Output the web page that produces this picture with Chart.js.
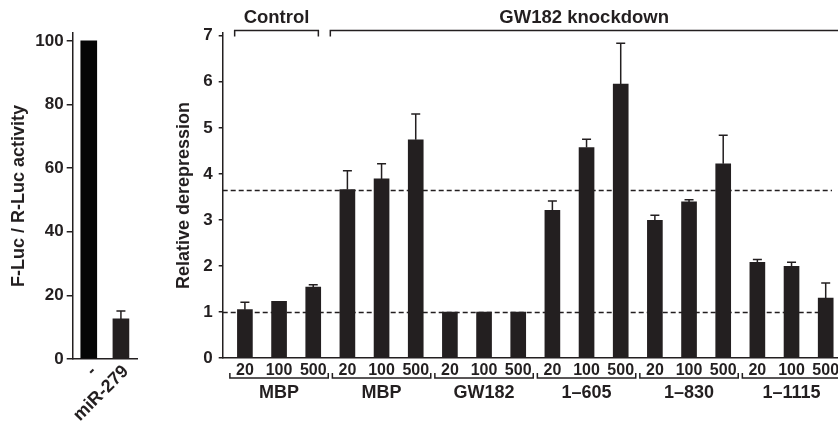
<!DOCTYPE html>
<html>
<head>
<meta charset="utf-8">
<script src="https://cdn.jsdelivr.net/npm/chart.js@4.4.0/dist/chart.umd.min.js"></script>
<style>
html, body { margin: 0; padding: 0; background: #fff; width: 838px; height: 428px; overflow: hidden; }
#left { position: absolute; left: 0; top: 0; }
#right { position: absolute; left: 150px; top: 0; }
</style>
</head>
<body>
<canvas id="left" width="150" height="428"></canvas>
<canvas id="right" width="700" height="428"></canvas>
<script>
// left panel
var leftLabels = ['-', 'miR-279'];
var leftValues = [100, 12.6];
var leftErrors = [null, 15.1];
var leftTicks = [0, 20, 40, 60, 80, 100];

// right panel
var doses = ['20', '100', '500'];
var groupLabels = ['MBP', 'MBP', 'GW182', '1\u2013605', '1\u2013830', '1\u20131115'];
var topGroups = ['Control', 'GW182 knockdown'];
var values = [1.05, 1.23, 1.54, 3.66, 3.89, 4.74, 1.0, 1.0, 1.0, 3.21, 4.57, 5.95, 2.99, 3.39, 4.22, 2.08, 1.99, 1.30];
var errorTops = [1.21, null, 1.59, 4.07, 4.22, 5.30, null, null, null, 3.41, 4.75, 6.84, 3.10, 3.44, 4.84, 2.14, 2.08, 1.63];
var refLines = [1, 3.65];
var rightTicks = [0, 1, 2, 3, 4, 5, 6, 7];

var ink = '#231f20';
var fontFamily = '"Liberation Sans", Arial, sans-serif';

var doseLabels = [];
groupLabels.forEach(function () {
    doses.forEach(function (d) { doseLabels.push(d); });
});

var errorBarsPlugin = {
    id: 'errorBars',
    afterDatasetsDraw: function (chart, args, opts) {
        var ctx = chart.ctx;
        var meta = chart.getDatasetMeta(0);
        var yScale = chart.scales.y;
        ctx.save();
        ctx.strokeStyle = ink;
        ctx.lineWidth = 1.5;
        meta.data.forEach(function (bar, i) {
            var top = opts.tops[i];
            if (top == null) return;
            var yTop = yScale.getPixelForValue(top);
            ctx.beginPath();
            ctx.moveTo(bar.x, bar.y);
            ctx.lineTo(bar.x, yTop);
            ctx.moveTo(bar.x - 4.5, yTop);
            ctx.lineTo(bar.x + 4.5, yTop);
            ctx.stroke();
        });
        ctx.restore();
    }
};

var annotationsPlugin = {
    id: 'annotations',
    beforeDatasetsDraw: function (chart) {
        var ctx = chart.ctx;
        var area = chart.chartArea;
        var yScale = chart.scales.y;
        ctx.save();
        ctx.strokeStyle = ink;
        ctx.lineWidth = 1.4;
        ctx.setLineDash([5, 3]);
        refLines.forEach(function (v) {
            var y = Math.round(yScale.getPixelForValue(v)) + 0.5;
            ctx.beginPath();
            ctx.moveTo(area.left, y);
            ctx.lineTo(area.right - 6, y);
            ctx.stroke();
        });
        ctx.restore();
    },
    afterDraw: function (chart) {
        var ctx = chart.ctx;
        var area = chart.chartArea;
        var xs = chart.scales.x;
        ctx.save();
        ctx.strokeStyle = ink;
        ctx.fillStyle = ink;
        ctx.lineWidth = 1.5;
        ctx.textAlign = 'center';
        ctx.textBaseline = 'middle';
        ctx.font = 'bold 18px ' + fontFamily;

        // brackets under each group
        groupLabels.forEach(function (label, g) {
            var c = g * 3 + 1;
            var x1 = xs.getPixelForValue(c - 1.44);
            var x2 = xs.getPixelForValue(c + 1.44);
            ctx.beginPath();
            ctx.moveTo(x1, 373);
            ctx.lineTo(x1, 378);
            ctx.lineTo(x2, 378);
            ctx.lineTo(x2, 373);
            ctx.stroke();
            ctx.fillText(label, xs.getPixelForValue(c), 393);
        });

        // top brackets
        ctx.font = 'bold 18.5px ' + fontFamily;
        var c1 = xs.getPixelForValue(-0.3);
        var c2 = xs.getPixelForValue(2.15);
        ctx.beginPath();
        ctx.moveTo(c1, 36.5);
        ctx.lineTo(c1, 30.5);
        ctx.lineTo(c2, 30.5);
        ctx.lineTo(c2, 36.5);
        ctx.stroke();
        ctx.fillText(topGroups[0], (c1 + c2) / 2, 17.5);

        var k1 = xs.getPixelForValue(2.5);
        ctx.beginPath();
        ctx.moveTo(k1, 36.5);
        ctx.lineTo(k1, 30.5);
        ctx.lineTo(chart.width, 30.5);
        ctx.stroke();
        ctx.fillText(topGroups[1], (k1 + area.right) / 2, 17.5);
        ctx.restore();
    }
};

new Chart(document.getElementById('left').getContext('2d'), {
    type: 'bar',
    data: {
        labels: leftLabels,
        datasets: [{
            data: leftValues,
            backgroundColor: ['#050505', ink],
            barThickness: 16
        }]
    },
    options: {
        responsive: false,
        animation: false,
        events: [],
        layout: { padding: { top: 33, right: 13, left: 0, bottom: 0 } },
        plugins: {
            legend: { display: false },
            tooltip: { enabled: false },
            errorBars: { tops: leftErrors }
        },
        scales: {
            x: {
                grid: { display: false, drawTicks: false },
                border: { display: true, color: ink, width: 1.5 },
                ticks: {
                    color: ink,
                    font: { family: fontFamily, size: 18, weight: 'bold' },
                    minRotation: 45,
                    maxRotation: 45,
                    padding: 2,
                    labelOffset: 5,
                    autoSkip: false
                },
                afterFit: function (scale) { scale.height = 69; }
            },
            y: {
                min: 0,
                max: 102.5,
                afterBuildTicks: function (scale) {
                    scale.ticks = leftTicks.map(function (v) { return { value: v }; });
                },
                grid: { display: true, drawOnChartArea: false, drawTicks: true, tickLength: 6, color: ink, lineWidth: 1.5 },
                border: { display: true, color: ink, width: 1.5 },
                ticks: {
                    color: ink,
                    font: { family: fontFamily, size: 17, weight: 'bold' },
                    padding: 3
                },
                title: {
                    display: true,
                    text: 'F-Luc / R-Luc activity',
                    color: ink,
                    font: { family: fontFamily, size: 18, weight: 'bold', lineHeight: 1.2 },
                    padding: { top: 8, bottom: 0 }
                },
                afterFit: function (scale) { scale.width = 72.7; }
            }
        }
    },
    plugins: [errorBarsPlugin]
});

new Chart(document.getElementById('right').getContext('2d'), {
    type: 'bar',
    data: {
        datasets: [{
            data: values.map(function (v, i) { return { x: i, y: v }; }),
            backgroundColor: ink,
            barThickness: 15
        }]
    },
    options: {
        responsive: false,
        animation: false,
        events: [],
        layout: { padding: { top: 33, right: 12, left: 0, bottom: 0 } },
        plugins: {
            legend: { display: false },
            tooltip: { enabled: false },
            errorBars: { tops: errorTops }
        },
        scales: {
            x: {
                type: 'linear',
                offset: false,
                min: -0.65,
                max: 17.36,
                afterBuildTicks: function (scale) {
                    scale.ticks = doseLabels.map(function (d, i) { return { value: i }; });
                },
                grid: { display: false, drawTicks: false, offset: false },
                border: { display: true, color: ink, width: 1.5 },
                ticks: {
                    color: ink,
                    font: { family: fontFamily, size: 16, weight: 'bold' },
                    padding: 3,
                    maxRotation: 0,
                    autoSkip: false,
                    callback: function (v, i) { return doseLabels[i]; }
                },
                afterFit: function (scale) { scale.height = 70; }
            },
            y: {
                min: 0,
                max: 7.06,
                afterBuildTicks: function (scale) {
                    scale.ticks = rightTicks.map(function (v) { return { value: v }; });
                },
                grid: { display: true, drawOnChartArea: false, drawTicks: true, tickLength: 4, color: ink, lineWidth: 1.5 },
                border: { display: true, color: ink, width: 1.5 },
                ticks: {
                    color: ink,
                    font: { family: fontFamily, size: 17, weight: 'bold' },
                    padding: 6
                },
                title: {
                    display: true,
                    text: 'Relative derepression',
                    color: ink,
                    font: { family: fontFamily, size: 18, weight: 'bold', lineHeight: 1.2 },
                    padding: { top: 23, bottom: 0 }
                },
                afterFit: function (scale) { scale.width = 72.7; }
            }
        }
    },
    plugins: [errorBarsPlugin, annotationsPlugin]
});
</script>
</body>
</html>
